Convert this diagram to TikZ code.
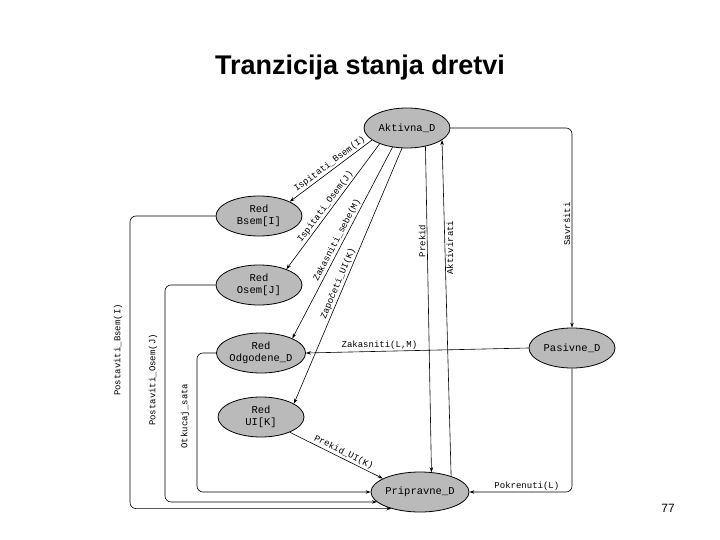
\documentclass[tikz,border=0pt]{standalone}
\usepackage{fontspec}
\setmainfont{Liberation Sans}
\setmonofont{Liberation Mono}
\usetikzlibrary{arrows.meta,positioning,shapes.geometric}
\tikzset{
  state/.style = {ellipse, draw, thick, fill=black!27, minimum width=86pt,
                  minimum height=40pt, inner sep=0pt, align=center,
                  font=\ttfamily\fontsize{10.5}{11.5}\selectfont},
  arr/.style   = {-{Stealth[length=5pt,width=3.5pt]}, line width=0.6pt},
  lbl/.style   = {font=\ttfamily\fontsize{9}{10}\selectfont, inner sep=1.5pt},
}

\begin{document}
\begin{tikzpicture}[x=1pt,y=-1pt]
  \useasboundingbox (0,0) rectangle (720,540);
  \node[font=\bfseries\fontsize{27}{31}\selectfont] (title) at (360,68) {Tranzicija stanja dretvi};
  \node[font=\fontsize{12}{14}\selectfont] (page) at (668,508) {77};
  % states
  \node[state] (akt)  at (407,128) {Aktivna\_D};
  \node[state] (bsem) at (259,216) {Red\\Bsem[I]};
  \node[state] (osem) at (259,285) {Red\\Osem[J]};
  \node[state] (odg)  at (261,353) {Red\\Odgodene\_D};
  \node[state] (rui)  at (261,417) {Red\\UI[K]};
  \node[state] (prip) at (420,492) {Pripravne\_D};
  \node[state] (pas)  at (572,348) {Pasivne\_D};
  % from Aktivna_D
  \draw[arr] (akt.199) -- node[lbl, sloped, above, pos=0.47]{Ispitati\_Bsem(I)} (bsem.25);
  \draw[arr] (akt.210) -- node[lbl, sloped, above, pos=0.53]{Ispitati\_Osem(J)} (osem.30);
  \draw[arr] (akt.233) -- node[lbl, sloped, above, pos=0.5]{Zakasniti\_sebe(M)} (odg.25);
  \draw[arr] (akt.256) -- node[lbl, sloped, above, pos=0.54]{Započeti\_UI(K)} (rui.22);
  \draw[arr] (akt.-45) -- node[lbl, rotate=90, above, pos=0.29]{Prekid} (prip.60);
  \draw[arr] (prip.27) -- node[lbl, rotate=90, below, pos=0.68]{Aktivirati} (akt.-19);
  \draw[arr, rounded corners=6pt] (akt.east) -| node[lbl, pos=0.74, rotate=90, above]{Savršiti} (pas.north);
  % from Pasivne_D
  \draw[arr] (pas.west) -- node[lbl, above, pos=0.67]{Zakasniti(L,M)} (odg.east);
  \draw[arr, rounded corners=6pt] (pas.south) |- node[lbl, pos=0.72, above]{Pokrenuti(L)} (prip.east);
  % back to Pripravne_D
  \draw[arr] (rui.-28) -- node[lbl, sloped, above, pos=0.55]{Prekid\_UI(K)} (prip.160);
  \coordinate (xb) at (130,0);
  \coordinate (xo) at (165,0);
  \coordinate (xs) at (197,0);
  \draw[arr, rounded corners=6pt] (bsem.west) -| (xb |- prip.210) -- (prip.210);
  \draw[arr, rounded corners=6pt] (osem.west) -| (xo |- prip.193) -- (prip.193);
  \draw[arr, rounded corners=6pt] (odg.west) -| (xs |- prip.180) -- (prip.180);
  \node[lbl, rotate=90] (lb) at (118,350) {Postaviti\_Bsem(I)};
  \node[lbl, rotate=90] (lo) at (153,380) {Postaviti\_Osem(J)};
  \node[lbl, rotate=90] (ls) at (185,416) {Otkucaj\_sata};
\end{tikzpicture}
\end{document}
